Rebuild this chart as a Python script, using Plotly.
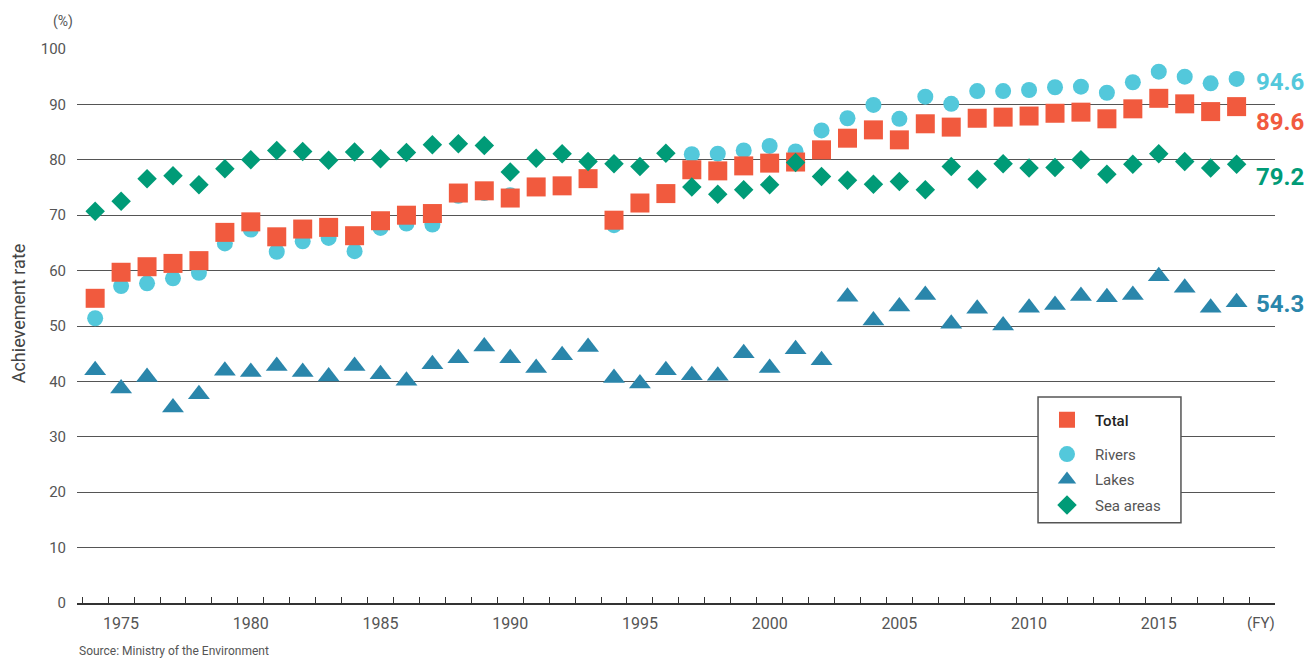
import plotly.graph_objects as go

# Fiscal years covered by the survey
years = list(range(1974, 2019))

# Environmental standard achievement rate (%) by water body type
total = [55.0, 59.7, 60.7, 61.3, 61.8, 66.9, 68.8, 66.1, 67.5, 67.8,
         66.3, 69.0, 70.0, 70.3, 74.0, 74.4, 73.1, 75.1, 75.3, 76.6,
         69.1, 72.2, 73.9, 78.2, 78.0, 78.9, 79.4, 79.6, 81.8, 83.9,
         85.4, 83.6, 86.5, 85.9, 87.5, 87.7, 87.9, 88.4, 88.6, 87.4,
         89.2, 91.1, 90.1, 88.7, 89.6]
rivers = [51.4, 57.2, 57.7, 58.6, 59.6, 64.9, 67.4, 63.4, 65.3, 65.9,
          63.5, 67.7, 68.5, 68.3, 73.5, 74.0, 73.6, 75.0, 75.2, 76.4,
          68.2, 72.1, 73.8, 81.0, 81.1, 81.7, 82.5, 81.5, 85.3, 87.5,
          89.9, 87.4, 91.4, 90.1, 92.4, 92.4, 92.6, 93.1, 93.2, 92.1,
          94.0, 95.9, 95.0, 93.8, 94.6]
lakes = [42.0, 38.7, 40.8, 35.3, 37.7, 41.9, 41.7, 42.8, 41.7, 40.9,
         42.8, 41.3, 40.1, 43.1, 44.2, 46.3, 44.2, 42.4, 44.7, 46.2,
         40.6, 39.6, 42.0, 41.1, 41.0, 45.1, 42.4, 45.8, 43.8, 55.3,
         51.0, 53.5, 55.6, 50.4, 53.1, 50.1, 53.3, 53.8, 55.4, 55.2,
         55.6, 59.0, 56.9, 53.3, 54.3]
sea = [70.7, 72.5, 76.6, 77.1, 75.5, 78.4, 80.0, 81.7, 81.5, 79.9,
       81.4, 80.2, 81.3, 82.7, 82.9, 82.6, 77.8, 80.3, 81.1, 79.7,
       79.3, 78.8, 81.2, 75.1, 73.8, 74.6, 75.5, 79.5, 77.0, 76.3,
       75.6, 76.1, 74.6, 78.8, 76.5, 79.3, 78.5, 78.6, 80.0, 77.4,
       79.2, 81.1, 79.7, 78.5, 79.2]

x_labels = [1975, 1980, 1985, 1990, 1995, 2000, 2005, 2010, 2015]
y_ticks = [0, 10, 20, 30, 40, 50, 60, 70, 80, 90, 100]

C_TOTAL = "#F15A3E"
C_RIVERS = "#53C8DB"
C_LAKES = "#2A86AB"
C_SEA = "#009B77"

FONT = "Roboto"

fig = go.Figure()

# Drawing order: rivers under total, sea areas on top
fig.add_trace(go.Scatter(
    x=years, y=rivers, mode="markers", name="Rivers",
    marker=dict(symbol="circle", size=16, color=C_RIVERS),
    legend="legend2", legendgroup="r", legendrank=2))
fig.add_trace(go.Scatter(
    x=years, y=total, mode="markers", name="Total",
    marker=dict(symbol="square", size=19, color=C_TOTAL),
    legend="legend", legendgroup="t", legendrank=1))
fig.add_trace(go.Scatter(
    x=years, y=lakes, mode="markers", name="Lakes",
    marker=dict(symbol="triangle-up", size=19, color=C_LAKES),
    legend="legend2", legendgroup="l", legendrank=3))
fig.add_trace(go.Scatter(
    x=years, y=sea, mode="markers", name="Sea areas",
    marker=dict(symbol="diamond", size=15, color=C_SEA),
    legend="legend2", legendgroup="s", legendrank=4))

# Latest-year values written at the right edge
end_labels = [
    (rivers[-1], C_RIVERS, 0.9406),
    (total[-1], C_TOTAL, 0.8687),
    (sea[-1], C_SEA, 0.7698),
    (lakes[-1], C_LAKES, 0.5396),
]
annotations = []
for val, col, ypos in end_labels:
    annotations.append(dict(
        text=f"{val:.1f}", xref="paper", yref="paper", x=0.9825, y=ypos,
        xanchor="left", yanchor="middle", showarrow=False,
        font=dict(family=FONT, size=24, color=col, weight="bold")))

annotations += [
    dict(text="(%)", xref="paper", yref="paper", x=-0.0117, y=1.05,
         xanchor="center", yanchor="middle", showarrow=False,
         font=dict(family=FONT, size=14, color="#555")),
    dict(text="(FY)", xref="paper", yref="paper", x=0.988, y=-0.037,
         xanchor="center", yanchor="middle", showarrow=False,
         font=dict(family=FONT, size=15, color="#555")),
    dict(text="Source: Ministry of the Environment", xref="paper", yref="paper",
         x=0.0, y=-0.071, xanchor="left", yanchor="top", showarrow=False,
         font=dict(family=FONT, size=12, color="#555")),
    dict(text="Achievement rate", xref="paper", yref="paper", x=-0.0492, y=0.523,
         xanchor="center", yanchor="middle", textangle=-90, showarrow=False,
         font=dict(family=FONT, size=18, color="#444")),
]

# Year-boundary ticks along the baseline
minor_ticks = [y - 0.5 for y in years] + [years[-1] + 0.5]

fig.update_layout(
    width=1309, height=659,
    margin=dict(l=77, r=34, t=49, b=56),
    paper_bgcolor="white", plot_bgcolor="white",
    font=dict(family=FONT, color="#555"),
    showlegend=True,
    legend=dict(x=0.803, y=0.3305, xanchor="left", yanchor="middle",
                bgcolor="rgba(0,0,0,0)", borderwidth=0, itemwidth=46,
                font=dict(family=FONT, size=15, color="#222", weight=500)),
    legend2=dict(x=0.803, y=0.2223, xanchor="left", yanchor="middle",
                 bgcolor="rgba(0,0,0,0)", borderwidth=0, itemwidth=46,
                 traceorder="grouped", tracegroupgap=3,
                 font=dict(family=FONT, size=15, color="#555")),
    shapes=[dict(type="rect", xref="paper", yref="paper",
                 x0=0.8022, x1=0.9215, y0=0.1448, y1=0.372,
                 line=dict(color="#555", width=1.5), fillcolor="white",
                 layer="above")],
    annotations=annotations,
)

fig.update_xaxes(
    range=[1973.3, 2019.48], tickmode="array", tickvals=x_labels,
    ticktext=[str(v) for v in x_labels], ticks="", showgrid=False,
    tickfont=dict(family=FONT, size=16, color="#555"), ticklabelstandoff=5,
    showline=True, linecolor="#333", linewidth=1.5,
    minor=dict(tickmode="array", tickvals=minor_ticks, ticks="inside",
               ticklen=6, tickcolor="#333", tickwidth=1, showgrid=False),
    zeroline=False,
)
fig.update_yaxes(
    range=[0, 100], tickmode="array", tickvals=y_ticks, ticks="",
    showgrid=True, gridcolor="#555", gridwidth=1, zeroline=False,
    tickfont=dict(family=FONT, size=15, color="#555"), ticklabelstandoff=10,
)

fig.write_html("out.html")
